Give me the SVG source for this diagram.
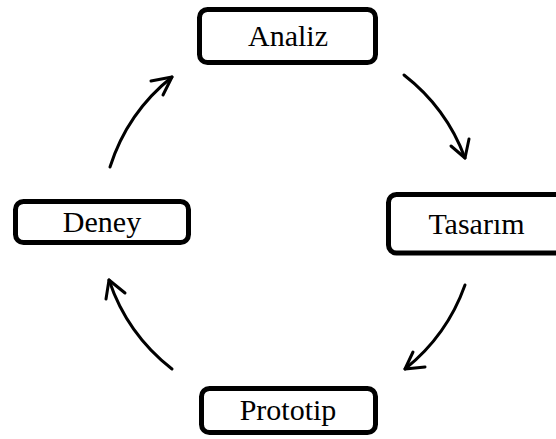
<svg xmlns="http://www.w3.org/2000/svg" width="556" height="439" viewBox="0 0 556 439">
<style>
.box{fill:#fff;stroke:#000;stroke-width:5}
.lbl{font-family:"Liberation Serif","Times New Roman",serif;font-size:30px;fill:#000;text-anchor:middle}
.arc{fill:none;stroke:#000;stroke-width:3;stroke-linecap:round;stroke-linejoin:round}
</style>
<rect width="556" height="439" fill="#fff"/>
<g id="connectors">
<path class="arc" d="M404,75 A188,188 0 0,1 465,158"/>
<path class="arc" d="M451,146 L465,158 L469,139"/>
<path class="arc" d="M465,285 A188,188 0 0,1 405,369"/>
<path class="arc" d="M413,352 L405,369 L425,367"/>
<path class="arc" d="M172,369 A188,188 0 0,1 109,280"/>
<path class="arc" d="M106,299 L109,280 L125,293"/>
<path class="arc" d="M110,167 A188,188 0 0,1 172,77"/>
<path class="arc" d="M151,81 L172,77 L163,95"/>
</g>
<g id="analiz">
<rect class="box" x="199.5" y="9.5" width="176" height="53" rx="8"/>
<text class="lbl" x="288" y="46">Analiz</text>
</g>
<g id="tasarim">
<rect class="box" x="388.5" y="194.5" width="176" height="58.5" rx="8"/>
<text class="lbl" x="476.5" y="234">Tasarım</text>
</g>
<g id="prototip">
<rect class="box" x="201.5" y="388.5" width="174" height="44" rx="8"/>
<text class="lbl" x="288" y="420">Prototip</text>
</g>
<g id="deney">
<rect class="box" x="15.5" y="201.5" width="173" height="41" rx="8"/>
<text class="lbl" x="102" y="232">Deney</text>
</g>
</svg>
